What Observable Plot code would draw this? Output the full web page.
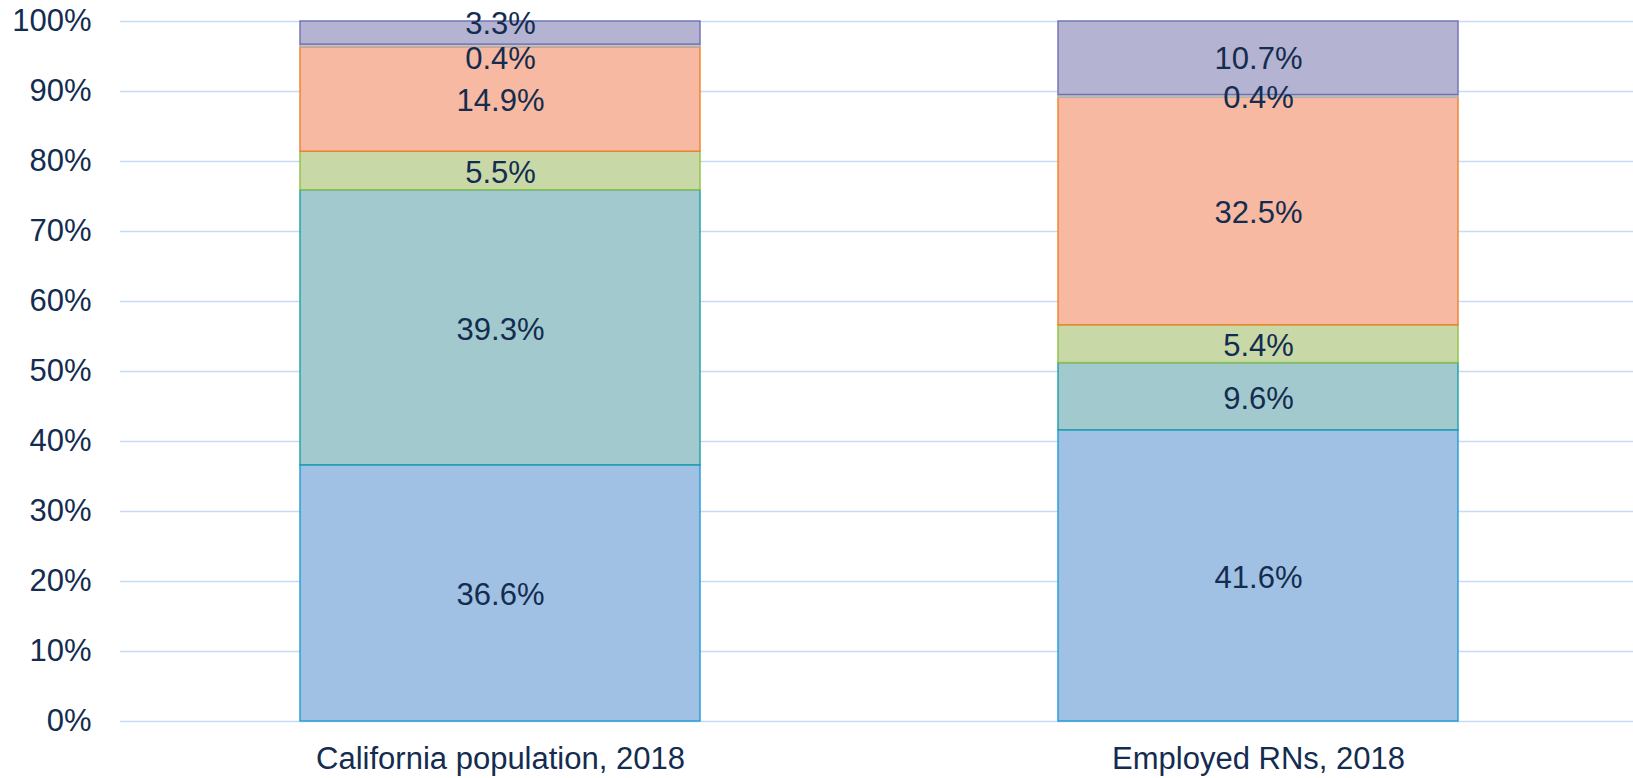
<!DOCTYPE html>
<html>
<head>
<meta charset="utf-8">
<script src="https://cdn.jsdelivr.net/npm/d3@7"></script>
<script src="https://cdn.jsdelivr.net/npm/@observablehq/plot@0.6"></script>
<style>
  html, body { margin: 0; padding: 0; background: #fff; }
  #chart svg { display: block; }
  #chart svg text { font-family: "Liberation Sans", Arial, sans-serif; font-size: 31px; fill: #132c4f; }
</style>
</head>
<body>
<div id="chart"></div>
<script>
// ---- data ----
const categories = ["California population, 2018", "Employed RNs, 2018"];
const seriesNames = ["White", "Hispanic", "Black", "Asian", "Native American", "Other"];
const caValues = [36.6, 39.3, 5.5, 14.9, 0.4, 3.3];
const rnValues = [41.6, 9.6, 5.4, 32.5, 0.4, 10.7];
const yTicks = [0, 10, 20, 30, 40, 50, 60, 70, 80, 90, 100];

// ---- styles ----
const fills   = ["#a0c1e3", "#a2c9ce", "#c8d9a7", "#f7b9a1", "#c6c3c2", "#b4b3d2"];
const strokes = ["#1e9ad6", "#1b9ea9", "#8dc03f", "#f07f2a", "#b5b0ae", "#6f6fb4"];
const navy = "#132c4f";

// build stacked rows
const valuesByCat = [caValues, rnValues];
const rows = [];
categories.forEach((cat, ci) => {
  let acc = 0;
  valuesByCat[ci].forEach((v, si) => {
    rows.push({cat, series: seriesNames[si], si, value: v, y1: acc, y2: acc + v, ly: acc + v / 2, label: v.toFixed(1) + "%"});
    acc += v;
  });
});

// push apart labels that would overlap (minimum separation in percent units)
const minSep = 4.9;
categories.forEach(cat => {
  const ls = rows.filter(r => r.cat === cat).sort((a, b) => a.ly - b.ly);
  for (let i = 0; i < ls.length - 1; i++) {
    const a = ls[i], b = ls[i + 1];
    if (b.ly - a.ly < minSep) {
      const mid = (a.ly + b.ly) / 2;
      a.ly = mid - minSep / 2;
      b.ly = mid + minSep / 2;
    }
  }
});

const barMarks = seriesNames.map((s, si) =>
  Plot.barY(rows.filter(r => r.si === si), {
    x: "cat", y1: "y1", y2: "y2",
    fill: fills[si], stroke: strokes[si], strokeWidth: 1.4
  })
);

const chart = Plot.plot({
  width: 1633,
  height: 778,
  marginLeft: 120,
  marginRight: 0,
  marginTop: 21,
  marginBottom: 57,
  style: {fontFamily: "'Liberation Sans', Arial, sans-serif", fontSize: "31px", color: navy, background: "#fff", overflow: "visible"},
  x: {domain: categories, range: [121, 1637], paddingInner: 0.4726, paddingOuter: 0.2363, label: null, tickSize: 0, tickPadding: 25},
  y: {domain: [0, 100], clamp: true, ticks: yTicks, tickFormat: d => d + "%", label: null, tickSize: 0, tickPadding: 29},
  marks: [
    Plot.ruleY(yTicks, {stroke: "#c6daf6", strokeWidth: 1.6}),
    ...barMarks,
    Plot.text(rows, {x: "cat", y: "ly", text: "label", fill: navy, fontSize: 31, dy: 2})
  ]
});
document.getElementById("chart").appendChild(chart);
</script>
</body>
</html>
